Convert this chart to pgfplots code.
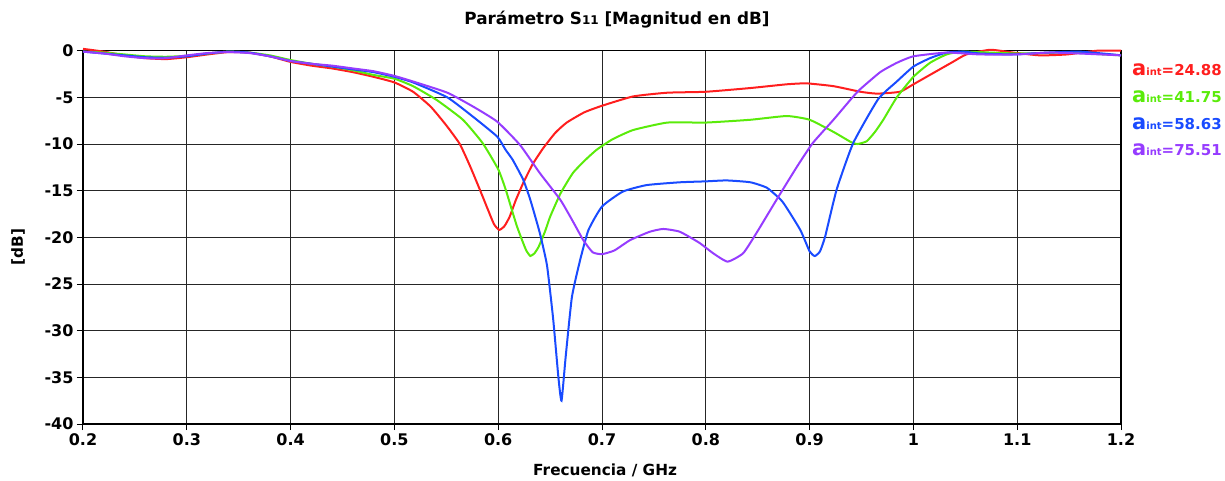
\documentclass[border=0pt]{standalone}
\usepackage{fontspec}
\setmainfont{DejaVu Sans}
\usepackage{pgfplots}
\pgfplotsset{compat=1.18}
\definecolor{cred}{RGB}{255,30,30}
\definecolor{cgreen}{RGB}{90,235,10}
\definecolor{cblue}{RGB}{25,75,255}
\definecolor{cpurple}{RGB}{150,60,255}
\newcommand{\aintlab}[1]{{\fontsize{21}{21}\selectfont a}{\fontsize{10}{10}\selectfont int}{\fontsize{15}{15}\selectfont =#1}}
\begin{document}
\begin{tikzpicture}
\useasboundingbox (-83pt,-56pt) rectangle (1142pt,424pt);
\begin{axis}[at={(0,0)}, anchor=south west, scale only axis,
  width=1038pt, height=373.3pt,
  xmin=0.2, xmax=1.2, ymin=-40, ymax=0,
  xtick={0.2,0.3,0.4,0.5,0.6,0.7,0.8,0.9,1,1.1,1.2},
  xticklabels={0.2,0.3,0.4,0.5,0.6,0.7,0.8,0.9,1,1.1,1.2},
  ytick={-40,-35,-30,-25,-20,-15,-10,-5,0},
  yticklabels={-40,-35,-30,-25,-20,-15,-10,-5,0},
  tick align=outside, tick pos=left, major tick length=6pt,
  grid=major, grid style={black!85, line width=0.9pt},
  axis line style={black, line width=1.2pt},
  tick style={black, line width=1pt},
  ticklabel style={font=\bfseries\fontsize{16}{17}\selectfont},
  clip=false,
  every axis plot/.append style={line width=2pt, smooth, tension=0.3},
]
\addplot[cred] coordinates {
(0.2,0.2)(0.22,-0.1)(0.24,-0.5)(0.26,-0.8)(0.28,-0.9)(0.30,-0.7)(0.32,-0.4)(0.34,-0.15)(0.36,-0.2)(0.38,-0.6)(0.40,-1.2)(0.42,-1.6)(0.44,-1.9)(0.46,-2.3)(0.48,-2.8)
(0.50,-3.4)(0.518,-4.4)(0.535,-6.0)(0.55,-8.0)(0.563,-10.0)(0.573,-12.4)(0.582,-14.8)(0.59,-17.0)(0.596,-18.6)(0.601,-19.2)(0.606,-18.8)(0.611,-17.8)(0.617,-16.0)(0.624,-14.2)(0.633,-12.2)(0.643,-10.5)(0.655,-8.8)(0.666,-7.7)(0.683,-6.6)(0.70,-5.9)(0.73,-4.9)(0.763,-4.5)(0.80,-4.4)(0.843,-4.0)(0.878,-3.6)(0.897,-3.5)(0.923,-3.8)(0.949,-4.4)(0.965,-4.6)(0.987,-4.4)(1.0,-3.6)(1.019,-2.4)(1.038,-1.2)(1.051,-0.4)(1.074,0.1)(1.096,-0.2)(1.122,-0.5)(1.148,-0.4)(1.177,0)(1.2,0)
};
\addplot[cgreen] coordinates {
(0.2,-0.1)(0.22,-0.2)(0.24,-0.4)(0.26,-0.6)(0.28,-0.65)(0.30,-0.55)(0.32,-0.3)(0.34,-0.1)(0.36,-0.2)(0.38,-0.5)(0.40,-1.0)(0.42,-1.4)(0.44,-1.7)(0.46,-2.1)(0.48,-2.6)
(0.50,-3.0)(0.518,-3.8)(0.541,-5.3)(0.566,-7.4)(0.585,-9.9)(0.60,-12.7)(0.607,-14.8)(0.613,-17.0)(0.618,-18.8)(0.623,-20.3)(0.627,-21.4)(0.631,-22.0)(0.635,-21.7)(0.639,-21.0)(0.645,-19.4)(0.65,-17.8)(0.66,-15.3)(0.672,-13.1)(0.684,-11.7)(0.695,-10.6)(0.71,-9.5)(0.73,-8.5)(0.763,-7.7)(0.80,-7.7)(0.843,-7.4)(0.878,-7.0)(0.90,-7.4)(0.923,-8.7)(0.94,-9.8)(0.946,-10.0)(0.955,-9.7)(0.963,-8.7)(0.971,-7.4)(0.984,-5.0)(1.0,-2.8)(1.016,-1.3)(1.032,-0.4)(1.048,-0.1)(1.1,-0.3)(1.15,-0.2)(1.2,-0.5)
};
\addplot[cblue] coordinates {
(0.2,-0.1)(0.22,-0.3)(0.24,-0.5)(0.26,-0.7)(0.28,-0.75)(0.30,-0.6)(0.32,-0.3)(0.34,-0.1)(0.36,-0.2)(0.38,-0.6)(0.40,-1.1)(0.42,-1.4)(0.44,-1.7)(0.46,-2.0)(0.48,-2.3)
(0.50,-2.8)(0.518,-3.4)(0.551,-5.0)(0.576,-7.1)(0.599,-9.2)(0.607,-10.6)(0.614,-11.7)(0.624,-13.8)(0.631,-16.0)(0.64,-19.5)(0.647,-23.0)(0.653,-28.8)(0.658,-35.0)(0.661,-37.5)(0.665,-32.8)(0.671,-26.4)(0.679,-22.4)(0.687,-19.2)(0.70,-16.7)(0.72,-15.1)(0.743,-14.4)(0.775,-14.1)(0.80,-14.0)(0.82,-13.9)(0.843,-14.1)(0.859,-14.7)(0.874,-16.2)(0.891,-19.2)(0.90,-21.5)(0.905,-22.0)(0.91,-21.5)(0.915,-19.9)(0.926,-14.9)(0.942,-9.9)(0.966,-5.2)(0.984,-3.3)(1.0,-1.7)(1.016,-0.8)(1.032,-0.2)(1.048,-0.1)(1.064,-0.3)(1.096,-0.4)(1.129,-0.2)(1.16,-0.1)(1.192,-0.4)(1.2,-0.5)
};
\addplot[cpurple] coordinates {
(0.2,-0.1)(0.22,-0.3)(0.24,-0.6)(0.26,-0.8)(0.28,-0.8)(0.30,-0.5)(0.32,-0.25)(0.34,-0.15)(0.36,-0.25)(0.38,-0.6)(0.40,-1.1)(0.42,-1.4)(0.44,-1.6)(0.46,-1.9)(0.48,-2.2)
(0.50,-2.7)(0.518,-3.3)(0.551,-4.5)(0.576,-6.0)(0.599,-7.6)(0.621,-10.1)(0.64,-13.1)(0.66,-16.0)(0.672,-18.3)(0.682,-20.3)(0.691,-21.6)(0.70,-21.8)(0.712,-21.4)(0.727,-20.3)(0.746,-19.4)(0.759,-19.1)(0.775,-19.4)(0.794,-20.6)(0.807,-21.7)(0.821,-22.6)(0.836,-21.7)(0.849,-19.5)(0.868,-16.0)(0.888,-12.4)(0.903,-9.9)(0.923,-7.4)(0.939,-5.3)(0.948,-4.2)(0.968,-2.3)(0.984,-1.3)(1.0,-0.6)(1.032,-0.2)(1.064,-0.4)(1.1,-0.4)(1.13,-0.2)(1.16,-0.3)(1.2,-0.5)
};
\node[anchor=west, text=cred, font=\bfseries, inner sep=0pt] at ([xshift=11pt,yshift=-19pt]rel axis cs:1,1) {\aintlab{24.88}};
\node[anchor=west, text=cgreen, font=\bfseries, inner sep=0pt] at ([xshift=11pt,yshift=-46pt]rel axis cs:1,1) {\aintlab{41.75}};
\node[anchor=west, text=cblue, font=\bfseries, inner sep=0pt] at ([xshift=11pt,yshift=-73pt]rel axis cs:1,1) {\aintlab{58.63}};
\node[anchor=west, text=cpurple, font=\bfseries, inner sep=0pt] at ([xshift=11pt,yshift=-99pt]rel axis cs:1,1) {\aintlab{75.51}};
\node[font=\bfseries\fontsize{16.8}{17}\selectfont] at ([yshift=31pt]rel axis cs:0.5145,1) {Parámetro S{\fontsize{12}{12}\selectfont 11} [Magnitud en dB]};
\node[font=\bfseries\fontsize{15.3}{16}\selectfont] at ([yshift=-46pt]rel axis cs:0.503,0) {Frecuencia / GHz};
\node[rotate=90, font=\bfseries\fontsize{15.3}{16}\selectfont] at ([xshift=-65pt]rel axis cs:0,0.474) {[dB]};
\end{axis}
\end{tikzpicture}
\end{document}
